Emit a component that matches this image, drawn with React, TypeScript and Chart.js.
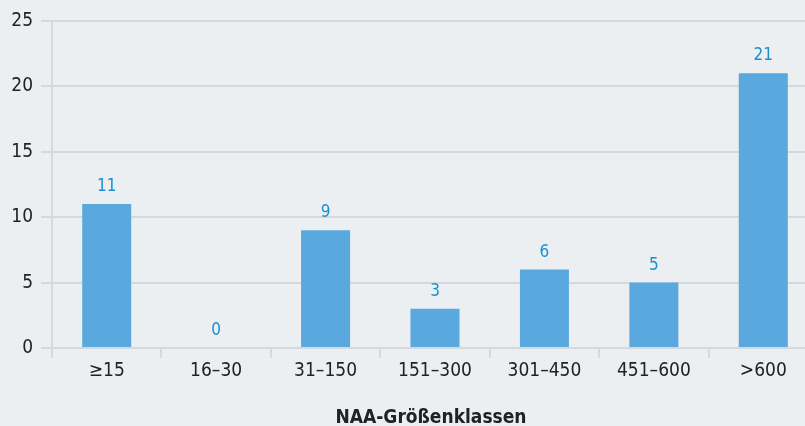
import React, { useEffect, useRef } from "react";
import { Chart, registerables } from "chart.js";

Chart.register(...registerables);

const categories = ["≥15", "16–30", "31–150", "151–300", "301–450", "451–600", ">600"];
const values = [11, 0, 9, 3, 6, 5, 21];
const yTicks = [0, 5, 10, 15, 20, 25];
const xTitle = "NAA-Größenklassen";

const FONT = "'DejaVu Sans Condensed', 'DejaVu Sans', sans-serif";
const BG = "#eceff2";
const GRID = "#d5d8dc";

const valueLabels = {
  id: "valueLabels",
  afterDatasetsDraw(chart: any) {
    const ctx = chart.ctx;
    const meta = chart.getDatasetMeta(0);
    ctx.save();
    ctx.fillStyle = "#1a8fd0";
    ctx.font = `17px ${FONT}`;
    ctx.textAlign = "center";
    ctx.textBaseline = "alphabetic";
    meta.data.forEach((bar: any, i: number) => {
      ctx.fillText(String(values[i]), bar.x, bar.y - 13);
    });
    ctx.restore();
  },
};

const axisTitle = {
  id: "axisTitle",
  afterDraw(chart: any) {
    const ctx = chart.ctx;
    ctx.save();
    ctx.fillStyle = "#222";
    ctx.font = `bold 19px ${FONT}`;
    ctx.textAlign = "center";
    ctx.textBaseline = "alphabetic";
    ctx.fillText(xTitle, 431, 423);
    ctx.restore();
  },
};

export default function App() {
  const ref = useRef<HTMLCanvasElement>(null);
  useEffect(() => {
    document.body.style.margin = "0";
    document.body.style.background = BG;
    const chart = new Chart(ref.current!, {
      type: "bar",
      data: {
        labels: categories,
        datasets: [
          {
            data: values,
            backgroundColor: "#5aa9de",
            barPercentage: 0.448,
            categoryPercentage: 1,
          },
        ],
      },
      options: {
        animation: false,
        responsive: false,
        maintainAspectRatio: false,
        layout: { padding: { top: 21, right: 0, left: 0, bottom: 0 } },
        plugins: { legend: { display: false }, tooltip: { enabled: false } },
        scales: {
          x: {
            offset: true,
            grid: {
              offset: true,
              drawOnChartArea: false,
              color: GRID,
              lineWidth: 2,
              tickLength: 10,
            },
            border: { display: false },
            ticks: { color: "#222", font: { family: FONT, size: 19 }, padding: 2, maxRotation: 0 },
            afterFit(scale: any) {
              scale.height = 78;
            },
          },
          y: {
            min: 0,
            max: 25,
            afterBuildTicks(scale: any) {
              scale.ticks = yTicks.map((v) => ({ value: v }));
            },
            grid: { color: GRID, lineWidth: 2, tickLength: 11 },
            border: { display: true, color: GRID, width: 2 },
            ticks: { color: "#222", font: { family: FONT, size: 19 }, padding: 8 },
            afterFit(scale: any) {
              scale.width = 52;
            },
          },
        },
      },
      plugins: [valueLabels, axisTitle],
    });
    return () => chart.destroy();
  }, []);
  return (
    <div style={{ width: 805, height: 426, background: BG, overflow: "hidden" }}>
      <canvas ref={ref} width={818} height={426} style={{ display: "block" }} />
    </div>
  );
}
